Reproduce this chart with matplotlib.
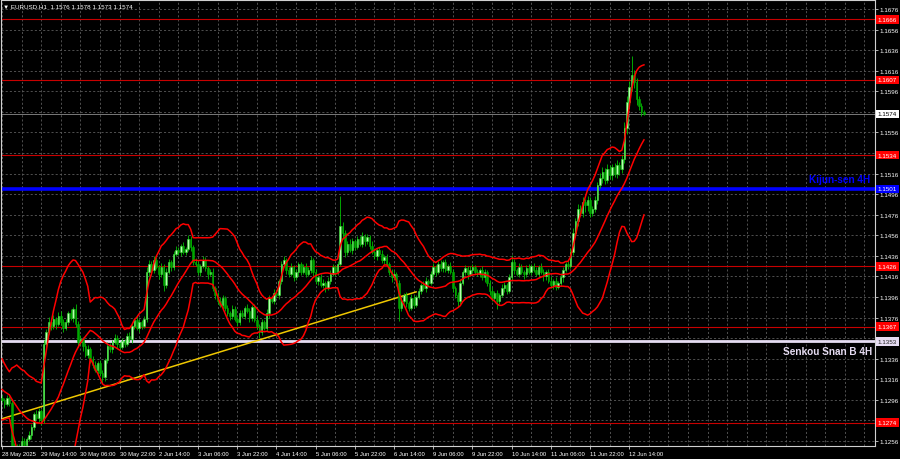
import matplotlib
matplotlib.use('Agg')
import matplotlib.pyplot as plt
import matplotlib.transforms as mtransforms
import numpy as np
import pandas as pd

plt.rcParams['font.family'] = ['Liberation Sans', 'DejaVu Sans']

# EURUSD H1 closes
# 28 May 02:00-21:00 sits left of the window, it only feeds the bands
pre_may28 = [1.1330, 1.1335, 1.1330, 1.1325, 1.1328, 1.1320, 1.1315, 1.1318, 1.1310, 1.1300,
             1.1305, 1.1298, 1.1290, 1.1295, 1.1300, 1.1292, 1.1285, 1.1290, 1.1295, 1.1298]
may28 = [1.1296, 1.1292]
may29 = [1.1298, 1.1293, 1.1245, 1.1248, 1.1240, 1.1250, 1.1256, 1.1252, 1.1258, 1.1262,
         1.1270, 1.1282, 1.1278, 1.1285, 1.1276, 1.1350, 1.1362, 1.1372, 1.1368, 1.1375,
         1.1370, 1.1378, 1.1372, 1.1366]
may30 = [1.1372, 1.1380, 1.1376, 1.1384, 1.1370, 1.1352, 1.1355, 1.1348, 1.1340, 1.1345,
         1.1336, 1.1330, 1.1325, 1.1332, 1.1322, 1.1318, 1.1335, 1.1348, 1.1345, 1.1352,
         1.1356, 1.1350, 1.1347, 1.1353]
jun2 = [1.1350, 1.1358, 1.1355, 1.1368, 1.1374, 1.1366, 1.1372, 1.1368, 1.1375, 1.1420,
        1.1428, 1.1422, 1.1432, 1.1425, 1.1418, 1.1425, 1.1408, 1.1420, 1.1430, 1.1425,
        1.1438, 1.1442, 1.1440, 1.1446]
jun3 = [1.1440, 1.1443, 1.1452, 1.1445, 1.1430, 1.1428, 1.1420, 1.1426, 1.1432, 1.1424,
        1.1418, 1.1420, 1.1405, 1.1398, 1.1392, 1.1388, 1.1395, 1.1385, 1.1380, 1.1378,
        1.1384, 1.1375, 1.1372, 1.1380]
jun4 = [1.1378, 1.1385, 1.1382, 1.1376, 1.1386, 1.1374, 1.1368, 1.1362, 1.1372, 1.1366,
        1.1380, 1.1395, 1.1392, 1.1400, 1.1398, 1.1412, 1.1428, 1.1432, 1.1422, 1.1418,
        1.1425, 1.1415, 1.1420, 1.1428]
jun5 = [1.1420, 1.1425, 1.1418, 1.1422, 1.1432, 1.1420, 1.1412, 1.1415, 1.1408, 1.1410,
        1.1405, 1.1412, 1.1418, 1.1425, 1.1420, 1.1428, 1.1465, 1.1458, 1.1440, 1.1448,
        1.1442, 1.1450, 1.1445, 1.1452]
jun6 = [1.1448, 1.1455, 1.1450, 1.1454, 1.1446, 1.1440, 1.1436, 1.1442, 1.1438, 1.1432,
        1.1435, 1.1428, 1.1420, 1.1415, 1.1418, 1.1410, 1.1385, 1.1392, 1.1398, 1.1390,
        1.1385, 1.1395, 1.1388, 1.1396]
jun9 = [1.1402, 1.1408, 1.1405, 1.1412, 1.1410, 1.1418, 1.1425, 1.1420, 1.1428, 1.1424,
        1.1430, 1.1422, 1.1426, 1.1420, 1.1405, 1.1398, 1.1392, 1.1410, 1.1420, 1.1424,
        1.1418, 1.1422, 1.1425, 1.1420]
jun10 = [1.1418, 1.1422, 1.1415, 1.1420, 1.1410, 1.1402, 1.1395, 1.1400, 1.1392, 1.1398,
         1.1405, 1.1408, 1.1402, 1.1415, 1.1430, 1.1422, 1.1418, 1.1425, 1.1420, 1.1418,
         1.1424, 1.1420, 1.1426, 1.1422]
jun11 = [1.1418, 1.1425, 1.1420, 1.1416, 1.1420, 1.1412, 1.1408, 1.1412, 1.1406, 1.1410,
         1.1415, 1.1422, 1.1428, 1.1426, 1.1440, 1.1458, 1.1470, 1.1482, 1.1478, 1.1488,
         1.1485, 1.1490, 1.1478, 1.1482]
jun12 = [1.1490, 1.1505, 1.1512, 1.1518, 1.1510, 1.1520, 1.1515, 1.1522, 1.1516, 1.1524,
         1.1520, 1.1530, 1.1560, 1.1586, 1.1600, 1.1612, 1.1605, 1.1588, 1.1582, 1.1576,
         1.1574]

# wick lengths in pips beyond the body, visible bars only
up_pips = [3, 2,
           3, 2, 4, 6, 5, 3, 4, 3, 2, 4, 3, 2, 4, 3, 2, 4, 3, 5, 3, 4, 2, 3, 4, 3,
           3, 2, 4, 2, 5, 3, 4, 2, 3, 4, 2, 3, 4, 2, 3, 3, 2, 4, 3, 2, 4, 3, 2, 3,
           2, 3, 4, 3, 2, 4, 3, 2, 3, 5, 4, 3, 4, 3, 2, 4, 3, 4, 3, 2, 3, 4, 3, 2,
           3, 2, 4, 3, 2, 4, 3, 2, 4, 3, 2, 3, 4, 2, 3, 4, 3, 2, 3, 2, 4, 3, 2, 3,
           3, 2, 4, 3, 2, 3, 4, 2, 3, 2, 4, 3, 2, 4, 3, 2, 3, 4, 2, 3, 4, 2, 3, 2,
           2, 3, 4, 3, 4, 2, 3, 2, 3, 4, 2, 3, 4, 3, 2, 3, 29, 4, 3, 2, 4, 3, 2, 3,
           3, 4, 2, 3, 2, 4, 3, 2, 3, 4, 2, 3, 2, 3, 4, 2, 3, 4, 2, 3, 2, 4, 3, 2,
           3, 2, 4, 3, 2, 3, 4, 2, 3, 4, 2, 3, 2, 4, 3, 2, 3, 4, 2, 3, 2, 4, 3, 2,
           3, 2, 4, 3, 2, 3, 4, 2, 3, 2, 4, 3, 2, 3, 7, 3, 2, 4, 3, 2, 3, 4, 2, 3,
           3, 2, 4, 3, 2, 3, 4, 2, 3, 2, 4, 3, 2, 3, 4, 5, 3, 4, 3, 5, 3, 4, 3, 2,
           4, 3, 5, 4, 3, 5, 4, 3, 4, 5, 3, 4, 6, 5, 6, 18, 5, 4, 3, 3, 2]
dn_pips = [2, 4,
           2, 3, 8, 6, 10, 4, 3, 5, 3, 2, 4, 3, 2, 3, 4, 2, 3, 2, 4, 3, 5, 2, 3, 4,
           2, 3, 2, 4, 3, 5, 3, 4, 2, 3, 4, 3, 2, 4, 3, 6, 4, 3, 2, 3, 2, 4, 3, 2,
           3, 2, 3, 4, 3, 2, 4, 3, 2, 3, 4, 5, 3, 2, 4, 3, 6, 3, 2, 4, 3, 2, 3, 4,
           2, 3, 2, 4, 3, 2, 3, 4, 2, 3, 4, 2, 3, 4, 3, 2, 4, 3, 2, 4, 3, 2, 4, 3,
           2, 3, 2, 4, 3, 2, 3, 6, 3, 2, 3, 4, 2, 3, 2, 4, 3, 2, 4, 3, 2, 3, 2, 4,
           3, 2, 3, 2, 3, 4, 3, 4, 2, 3, 4, 2, 3, 2, 4, 3, 2, 6, 5, 3, 2, 4, 3, 2,
           2, 3, 4, 2, 3, 2, 3, 4, 2, 3, 4, 2, 3, 4, 2, 3, 12, 3, 2, 4, 3, 2, 3, 2,
           2, 3, 2, 4, 3, 2, 3, 4, 2, 3, 4, 2, 3, 2, 4, 3, 6, 3, 2, 3, 4, 2, 3, 2,
           2, 3, 2, 4, 3, 4, 3, 2, 8, 3, 2, 4, 3, 2, 3, 4, 2, 3, 2, 4, 3, 2, 3, 2,
           2, 3, 2, 4, 3, 2, 3, 4, 3, 2, 3, 4, 2, 3, 2, 3, 4, 5, 3, 4, 6, 5, 4, 3,
           3, 4, 3, 5, 4, 3, 4, 5, 3, 4, 5, 3, 4, 6, 5, 4, 6, 5, 4, 4, 1]

red_levels = [1.1666, 1.1607, 1.1534, 1.1426, 1.1367, 1.1274]
kijun_4h = 1.1501
senkou_b_4h = 1.1353
last_price = 1.1574
trend_times = ['2025-05-28 21:00', '2025-06-06 23:00']
trend_prices = [1.1277, 1.1401]
title = '\u25bc EURUSD,H1  1.1576 1.1578 1.1573 1.1574'

closes = np.array(pre_may28 + may28 + may29 + may30 + jun2 + jun3 + jun4 + jun5
                  + jun6 + jun9 + jun10 + jun11 + jun12)
times = pd.date_range('2025-05-28 02:00', '2025-06-12 20:00', freq='h')
times = times[times.dayofweek < 5]
n_pre = len(pre_may28)
idx = np.arange(len(times)) - n_pre

# bollinger 20, 2
s = pd.Series(closes)
mid = s.rolling(20).mean()
sd = s.rolling(20).std(ddof=0)
upper = mid + 2 * sd
lower = mid - 2 * sd

vis = idx >= 0
x = idx[vis]
c = closes[vis]
o = closes[n_pre - 1:-1]
hi = np.maximum(o, c) + np.array(up_pips) / 1e4
lo = np.minimum(o, c) - np.array(dn_pips) / 1e4

fig = plt.figure(figsize=(9, 4.6), dpi=100, facecolor='black')
ax = fig.add_axes([1 / 900, 13 / 460, 874 / 900, 446 / 460])
ax.set_facecolor('black')
ax.set_xlim(-0.41, 356.3)
ax.set_ylim(1.12512, 1.16847)

grid_prices = np.round(np.arange(1.1256, 1.16761, 0.002), 4)
for gp in grid_prices:
    ax.axhline(gp, color='#5c5c5c', lw=0.6, ls=(0, (2.5, 2.5)), zorder=0)
for gx in range(0, 357, 8):
    ax.axvline(gx, color='#5c5c5c', lw=0.6, ls=(0, (2.5, 2.5)), zorder=0)

# levels
for lv in red_levels:
    ax.axhline(lv, color='#c80000', lw=0.8, zorder=1)
ax.axhline(last_price, color='#8c8c8c', lw=0.6, zorder=1)
ax.axhline(kijun_4h, color='#0000ff', lw=2.6, zorder=1)
ax.axhline(senkou_b_4h, color='#e6dcf2', lw=2.0, zorder=1)

# trend line
t_idx = [times.get_loc(pd.Timestamp(t)) - n_pre for t in trend_times]
ax.plot(t_idx, trend_prices, color='#f0c800', lw=1.1, zorder=2)

# bands
ax.plot(x, upper[vis], color='#ff0000', lw=1.1, zorder=4)
ax.plot(x, mid[vis], color='#ff0000', lw=1.1, zorder=4)
ax.plot(x, lower[vis], color='#ff0000', lw=1.1, zorder=4)

# candles
bull = c >= o
ax.vlines(x, lo, hi, color='#00c000', lw=0.6, zorder=3)
body = np.maximum(np.abs(c - o), 0.00003)
ax.bar(x, body, bottom=np.minimum(o, c), width=0.62,
       color=np.where(bull, '#b8ffb0', '#00a800'),
       edgecolor=np.where(bull, '#30e030', '#00a800'), linewidth=0.4, zorder=3)

# axes look
for sp in ax.spines.values():
    sp.set_color('#d0d0d0')
    sp.set_linewidth(0.8)

label_pos = list(range(0, len(x), 16))
labels = []
for i in label_pos:
    t = times[i + n_pre]
    if i == 0:
        labels.append(f'{t.day} {t:%b %Y}')
    else:
        labels.append(f'{t.day} {t:%b %H:%M}')
ax.set_xticks(label_pos)
ax.set_xticklabels(labels)

# scale labels that sit under a price tag are not shown
tags = red_levels + [kijun_4h, last_price, senkou_b_4h]
shown = [p for p in grid_prices if min(abs(p - t) for t in tags) > 0.00045]
ax.yaxis.tick_right()
ax.set_yticks(grid_prices)
ax.set_yticklabels([f'{p:.4f}' if p in shown else '' for p in grid_prices])
ax.tick_params(axis='both', colors='#d0d0d0', labelcolor='white', labelsize=4.5,
               length=2, width=0.6, pad=1.5)
ax.tick_params(axis='x', labelsize=4.2)
for lab in ax.get_xticklabels():
    lab.set_horizontalalignment('left')

# price tags on the right scale
tr = mtransforms.blended_transform_factory(ax.transAxes, ax.transData)
def tag(price, fc, tc):
    ax.text(1.003, price, f'{price:.4f}', transform=tr, fontsize=4.5, color=tc,
            va='center', ha='left', clip_on=False, zorder=10,
            bbox=dict(boxstyle='square,pad=0.3', fc=fc, ec='none'))

for lv in red_levels:
    tag(lv, '#ff0000', 'white')
tag(kijun_4h, '#0000ff', 'white')
tag(last_price, 'white', 'black')
tag(senkou_b_4h, '#e6dcf2', '#202020')

ax.text(0.994, kijun_4h + 0.001, 'Kijun-sen 4H', transform=tr, color='#0000ff',
        fontsize=7.2, fontweight='bold', ha='right', va='center', zorder=6)
ax.text(0.9966, senkou_b_4h - 0.00094, 'Senkou Snan B 4H', transform=tr, color='#e6dcf2',
        fontsize=7.2, fontweight='bold', ha='right', va='center', zorder=6)

fig.text(3 / 900, 1 - 7 / 460, title, color='white', fontsize=4.5, va='center', ha='left')

fig.savefig('out.png', dpi=100, facecolor='black')
